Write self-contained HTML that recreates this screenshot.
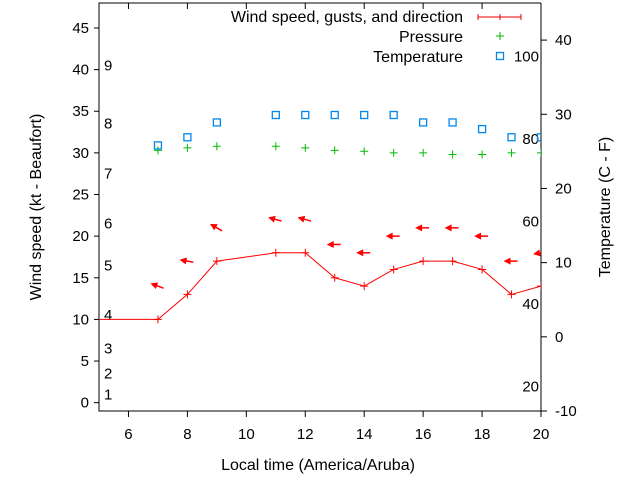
<!DOCTYPE html>
<html><head><meta charset="utf-8"><style>
body{margin:0;background:#fff;}
svg{display:block;font-family:"Liberation Sans",sans-serif;font-size:15px;}
</style></head><body>
<svg id="c" width="640" height="480"></svg>
<script>
const hours=[4,7,8,9,11,12,13,14,15,16,17,18,19,20];
const windSpeed=[10,10,13,17,18,18,15,14,16,17,17,16,13,14];
const gustHours=[7,8,9,11,12,13,14,15,16,17,18,19,20];
const gustSpeed=[14,17,21,22,22,19,18,20,21,21,20,17,18];
const windDir=[110,100,120,105,105,90,90,90,90,90,90,90,80];
const pressHours=[7,8,9,11,12,13,14,15,16,17,18,19,20];
const pressure=[30.3,30.6,30.8,30.8,30.6,30.3,30.2,30.0,30.0,29.8,29.8,30.0,30.0];
const tempHours=[7,8,9,11,12,13,14,15,16,17,18,19,20];
const tempC=[25.8,26.9,28.9,29.9,29.9,29.9,29.9,29.9,28.9,28.9,28,26.9,26.9];
const xTicks=[6,8,10,12,14,16,18,20];
const yTicks=[0,5,10,15,20,25,30,35,40,45];
const y2Ticks=[-10,0,10,20,30,40];
const beaufort=[[1,1],[2,3.5],[3,6.5],[4,10.5],[5,16.5],[6,21.5],[7,27.5],[8,33.5],[9,40.5]];
const fahr=[20,40,60,80,100];

const L=99,R=541,T=3,B=411;
const X=v=>L+(v-5)*(R-L)/15;
const Y=v=>B-(v+1)*(B-T)/49;
const Y2=v=>B-(v+10)*(B-T)/55;
const svg=document.getElementById('c');
const NS='http://www.w3.org/2000/svg';
function mk(tag,attrs,name,parent){const e=document.createElementNS(NS,tag);for(const k in attrs)e.setAttribute(k,attrs[k]);


(parent||svg).appendChild(e);return e;}
function txt(x,y,s,anchor,name,size){const t=mk('text',{x:x,y:y,'text-anchor':anchor||'start',fill:'#000'},name);if(size)t.setAttribute('font-size',size);t.textContent=s;return t;}

const defs=mk('defs',{},'defs');
const cp=mk('clipPath',{id:'pc'},'clip',defs);
mk('rect',{x:L,y:T,width:R-L,height:B-T},'clip-rect',cp);

xTicks.forEach(v=>{mk('line',{x1:X(v),x2:X(v),y1:B,y2:B+6,stroke:'#000'},'x-tick');
 mk('line',{x1:X(v),x2:X(v),y1:T,y2:T+6,stroke:'#000'},'x-tick-top');
 txt(X(v),439,String(v),'middle','x-tick-label');});
yTicks.forEach(v=>{mk('line',{x1:L-5,x2:L,y1:Y(v),y2:Y(v),stroke:'#000'},'y-tick');
 txt(89,Y(v)+5,String(v),'end','y-tick-label');});
y2Ticks.forEach(v=>{mk('line',{x1:R,x2:R+6,y1:Y2(v),y2:Y2(v),stroke:'#000'},'y2-tick');
 txt(555,Y2(v)+5,String(v),'start','y2-tick-label');});
beaufort.forEach(b=>txt(104,Y(b[1])+5,String(b[0]),'start','beaufort-label'));
fahr.forEach(f=>txt(539,Y2((f-32)*5/9)+5,String(f),'end','fahrenheit-label'));

mk('polyline',{points:`${R},${T} ${L},${T} ${L},${B} ${R},${B} ${R},${T}`,fill:'none',stroke:'#000'},'plot-frame');

const g=mk('g',{'clip-path':'url(#pc)'},'plot-area');
mk('polyline',{points:hours.map((h,i)=>X(h)+','+Y(windSpeed[i])).join(' '),fill:'none',stroke:'#f00'},'wind-speed-line',g);
hours.forEach((h,i)=>{const x=X(h),y=Y(windSpeed[i]);
 mk('path',{d:`M${x-4},${y}H${x+4}M${x},${y-4}V${y+4}`,stroke:'#f00'},'wind-point',g);});
gustHours.forEach((h,i)=>{const x=X(h),y=Y(gustSpeed[i]);const a=(windDir[i]-90)*Math.PI/180;
 const dx=Math.cos(a),dy=Math.sin(a);
 const hx=x-6*dx,hy=y-6*dy,tx=x+6*dx,ty=y+6*dy;
 mk('line',{x1:hx,y1:hy,x2:tx,y2:ty,stroke:'#f00','stroke-width':1.5},'gust-arrow-shaft',g);
 const px=-dy,py=dx;
 mk('polygon',{points:`${hx-dx*2},${hy-dy*2} ${hx+dx*5+px*3.5},${hy+dy*5+py*3.5} ${hx+dx*5-px*3.5},${hy+dy*5-py*3.5}`,fill:'#f00'},'gust-arrow-head',g);});
pressHours.forEach((h,i)=>{const x=X(h),y=Y(pressure[i]);
 mk('path',{d:`M${x-4},${y}H${x+4}M${x},${y-4}V${y+4}`,stroke:'#0b0'},'pressure-point',g);});
tempHours.forEach((h,i)=>{const x=X(h),y=Y2(tempC[i]);
 mk('rect',{x:x-3.5,y:y-3.5,width:7,height:7,fill:'none',stroke:'#08e','stroke-width':1.3},'temperature-point',g);});

txt(463,22,'Wind speed, gusts, and direction','end','legend-wind-label',16);
mk('path',{d:'M478,17H521M478,14V20M500,14V20M521,14V20',stroke:'#e00'},'legend-wind-sample');
txt(463,42,'Pressure','end','legend-pressure-label',16);
mk('path',{d:'M496,36H504M500,32V40',stroke:'#0b0'},'legend-pressure-sample');
txt(463,62,'Temperature','end','legend-temperature-label',16);
mk('rect',{x:496.5,y:52.5,width:7,height:7,fill:'none',stroke:'#08e','stroke-width':1.3},'legend-temperature-sample');

txt(318,470,'Local time (America/Aruba)','middle','x-axis-title',16);
const yt=txt(0,0,'Wind speed (kt - Beaufort)','middle','y-axis-title',16);yt.setAttribute('transform','translate(41,207) rotate(-90)');
const y2t=txt(0,0,'Temperature (C - F)','middle','y2-axis-title',16);y2t.setAttribute('transform','translate(610,207) rotate(-90)');
</script>
</body></html>
